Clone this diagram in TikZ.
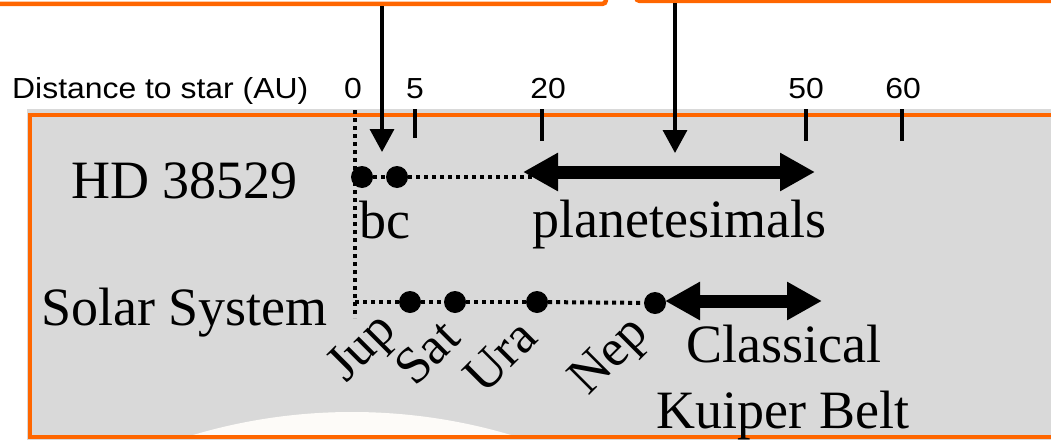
\documentclass[tikz,border=0pt]{standalone}
\usepackage{fontspec}
\setmainfont{Liberation Serif}
\newfontfamily\arialfont{Liberation Sans}
\usetikzlibrary{arrows.meta}
\definecolor{orng}{HTML}{FF6600}
\definecolor{panelgray}{HTML}{D9D9D9}
\definecolor{offwhite}{HTML}{FDFBF8}
\tikzset{
  frame/.style={draw=orng, line width=4.5pt},
  topbox/.style={frame, fill=white, rounded corners=3pt},
  axislabel/.style={font=\arialfont\fontsize{29}{32}\selectfont, inner sep=0pt, anchor=base},
  tickline/.style={line width=3.5pt},
  dotline/.style={line width=4pt, dash pattern=on 4pt off 4pt},
  planet/.style={circle, fill=black, inner sep=0pt, minimum size=22pt},
  bigtext/.style={font=\fontsize{54}{60}\selectfont, inner sep=0pt, anchor=base west},
  rottext/.style={font=\fontsize{52}{56}\selectfont, inner sep=0pt, rotate=45},
  pointer/.style={line width=3.5pt, -{Triangle[length=23pt,width=24pt]}},
  spanarrow/.style={line width=13pt, {Triangle[length=35pt,width=36pt]}-{Triangle[length=35pt,width=36pt]}},
}
\begin{document}
\begin{tikzpicture}[x=1pt,y=-1pt]
\clip (0,0) rectangle (1051,439);
% top boxes (cut off)
\node[topbox, minimum width=640pt, minimum height=60pt, anchor=south east] (box1) at (608,6) {};
\node[topbox, minimum width=440pt, minimum height=60pt, anchor=south west] (box2) at (634,3) {};
% panel
\fill[panelgray] (27,109) rectangle (1060,445);
\begin{scope}
  \clip (30,115) rectangle (1060,437);
  \fill[offwhite] (352,969) circle (557);
\end{scope}
\draw[frame] (30,115) rectangle (1060,437);
% axis
\node[anchor=base west, inner sep=0pt, font=\arialfont\fontsize{29}{32}\selectfont] (axtitle) at (12,98) {\scalebox{1.1}[1]{Distance to star (AU)}};
\node[axislabel] (l0) at (353,98) {\scalebox{1.1}[1]{0}};
\node[axislabel] (l5) at (415,98) {\scalebox{1.1}[1]{5}};
\node[axislabel] (l20) at (548,98) {\scalebox{1.1}[1]{20}};
\node[axislabel] (l50) at (806,98) {\scalebox{1.1}[1]{50}};
\node[axislabel] (l60) at (903,98) {\scalebox{1.1}[1]{60}};
\coordinate (t5a) at (415,109); \coordinate (t5b) at (415,138);
\coordinate (t20a) at (542,109); \coordinate (t20b) at (542,141);
\coordinate (t50a) at (806,109); \coordinate (t50b) at (806,141);
\coordinate (t60a) at (902,109); \coordinate (t60b) at (902,141);
\draw[tickline] (t5a) -- (t5b);
\draw[tickline] (t20a) -- (t20b);
\draw[tickline] (t50a) -- (t50b);
\draw[tickline] (t60a) -- (t60b);
% zero line
\coordinate (z0) at (355,110);
\coordinate (z1) at (355,318);
\coordinate (zs) at (355,302);
\draw[dotline] (z0) -- (z1);
% HD 38529 row
\node[bigtext] (hd) at (71,198) {HD 38529};
\node[planet] (pb) at (362,177) {};
\node[planet] (pc) at (397,177) {};
\coordinate (hdend) at (585,177);
\draw[dotline] (pb) -- (pc);
\draw[dotline] (pc) -- (hdend);
\node[bigtext] (bc) at (359,238) {bc};
\coordinate (pl0) at (523,172);
\coordinate (pl1) at (815,172);
\draw[spanarrow] (pl0) -- (pl1);
\node[bigtext] (plan) at (532,237) {planetesimals};
% Solar system row
\node[bigtext] (ss) at (41,325) {Solar System};
\node[planet] (jup) at (410,302) {};
\node[planet] (sat) at (455,302) {};
\node[planet] (ura) at (537,302) {};
\node[planet] (nep) at (655,303) {};
\draw[dotline] (zs) -- (jup);
\draw[dotline] (jup) -- (sat);
\draw[dotline] (sat) -- (ura);
\draw[dotline] (ura) -- (nep);
\node[rottext] (ljup) at (364,350) {Jup};
\node[rottext] (lsat) at (427,352) {Sat};
\node[rottext] (lura) at (500,356) {Ura};
\node[rottext] (lnep) at (611,358) {Nep};
\coordinate (kb0) at (665,301);
\coordinate (kb1) at (822,301);
\draw[spanarrow] (kb0) -- (kb1);
\node[bigtext] (cl) at (686,362) {Classical};
\node[bigtext] (kb) at (656,428) {Kuiper Belt};
% pointers from top boxes
\coordinate (p1) at (382,152);
\coordinate (p2) at (675,153);
\draw[pointer] (box1.south -| p1) -- (p1);
\draw[pointer] (box2.south -| p2) -- (p2);
\end{tikzpicture}
\end{document}
